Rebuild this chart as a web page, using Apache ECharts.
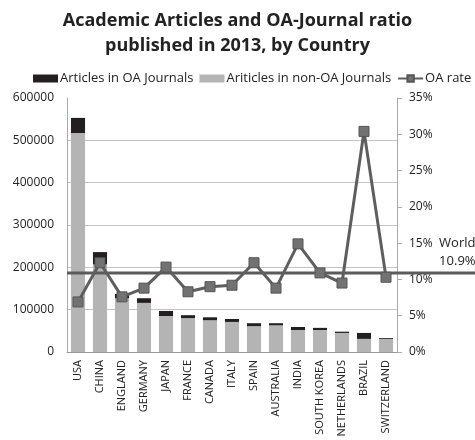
<!DOCTYPE html>
<html><head><meta charset="utf-8">
<script src="https://cdn.jsdelivr.net/npm/echarts@6/dist/echarts.min.js"></script>
<style>html,body{margin:0;padding:0;background:#fff}#c{width:475px;height:440px}</style>
</head><body><div id="c"></div>
<script>
var categories = ['USA','CHINA','ENGLAND','GERMANY','JAPAN','FRANCE','CANADA','ITALY','SPAIN','AUSTRALIA','INDIA','SOUTH KOREA','NETHERLANDS','BRAZIL','SWITZERLAND'];
var oaArticles = [36000, 29000, 10000, 11000, 12000, 7000, 7000, 7000, 7000, 5000, 7000, 5000, 3000, 14000, 2000];
var nonOaArticles = [517000, 207000, 127000, 116000, 85000, 80000, 75000, 71000, 61000, 63000, 52000, 52000, 45000, 31000, 31000];
var oaRate = [6.9, 12.3, 7.6, 8.8, 11.7, 8.3, 9.0, 9.2, 12.3, 8.8, 14.9, 10.9, 9.5, 30.4, 10.3];
var worldRate = 10.9;

var font = '"Open Sans", "Noto Sans", sans-serif';
var chart = echarts.init(document.getElementById('c'));
chart.setOption({
  animation: false,
  title: {
    text: 'Academic Articles and OA-Journal ratio\npublished in 2013, by Country',
    left: 'center', top: 3,
    textStyle: {fontFamily: font, fontWeight: 'bold', fontSize: 18, lineHeight: 25, color: '#222'}
  },
  legend: {
    left: 28, top: 67, width: 700, itemWidth: 25, itemHeight: 8, itemGap: 6,
    data: [{name: 'Articles in OA Journals', icon: 'rect'}, {name: 'Ariticles in non-OA Journals', icon: 'rect'}, {name: 'OA rate'}],
    textStyle: {fontFamily: font, fontSize: 13, color: '#222', padding: [0,0,0,-3]}
  },
  grid: [
    {left: 67, right: 78, top: 98, bottom: 88},
    {left: 67, right: 0, top: 98, bottom: 88}
  ],
  xAxis: [
    {type: 'category', data: categories, gridIndex: 0,
     axisLine: {lineStyle: {color: '#999'}}, axisTick: {show: false},
     axisLabel: {rotate: 90, fontFamily: font, fontSize: 11, color: '#222', margin: 8, interval: 0}},
    {type: 'value', gridIndex: 1, min: 0, max: 1, show: false}
  ],
  yAxis: [
    {type: 'value', gridIndex: 0, min: 0, max: 600000, interval: 100000,
     axisLine: {show: true, lineStyle: {color: '#aaa'}}, axisTick: {show: false},
     splitLine: {lineStyle: {color: '#c4c4c4', width: 1}, showMaxLine: false},
     axisLabel: {fontFamily: font, fontSize: 12, color: '#222', margin: 13, formatter: function (v) { return String(v); }}},
    {type: 'value', gridIndex: 0, min: 0, max: 35, interval: 5, position: 'right',
     axisLine: {show: true, lineStyle: {color: '#aaa'}},
     axisTick: {show: true, length: 5, lineStyle: {color: '#aaa'}},
     splitLine: {show: false},
     axisLabel: {fontFamily: font, fontSize: 12, color: '#222', margin: 12, formatter: '{value}%'}},
    {type: 'value', gridIndex: 1, min: 0, max: 35, show: false}
  ],
  series: [
    {name: 'Ariticles in non-OA Journals', type: 'bar', stack: 'a', data: nonOaArticles,
     barCategoryGap: '36%', itemStyle: {color: '#b4b4b4'}, z: 2},
    {name: 'Articles in OA Journals', type: 'bar', stack: 'a', data: oaArticles,
     itemStyle: {color: '#231f20'}, z: 2},
    {name: 'World', type: 'line', xAxisIndex: 1, yAxisIndex: 2,
     data: [[0, worldRate], {value: [0.912, worldRate], label: {show: true}}, [1, worldRate]],
     symbol: 'circle', symbolSize: 0, showSymbol: true,
     lineStyle: {color: '#5b5b5b', width: 3}, z: 3, silent: true,
     label: {show: false, position: 'top', distance: 3, formatter: 'World\n' + worldRate + '%',
       fontFamily: font, fontSize: 13, lineHeight: 18, color: '#222', align: 'left'}},
    {name: 'OA rate', type: 'line', yAxisIndex: 1, data: oaRate,
     symbol: 'rect', symbolSize: 10,
     lineStyle: {color: '#5e5e5e', width: 3},
     itemStyle: {color: '#727272', borderColor: '#555', borderWidth: 1}, z: 5}
  ]
});
</script></body></html>
